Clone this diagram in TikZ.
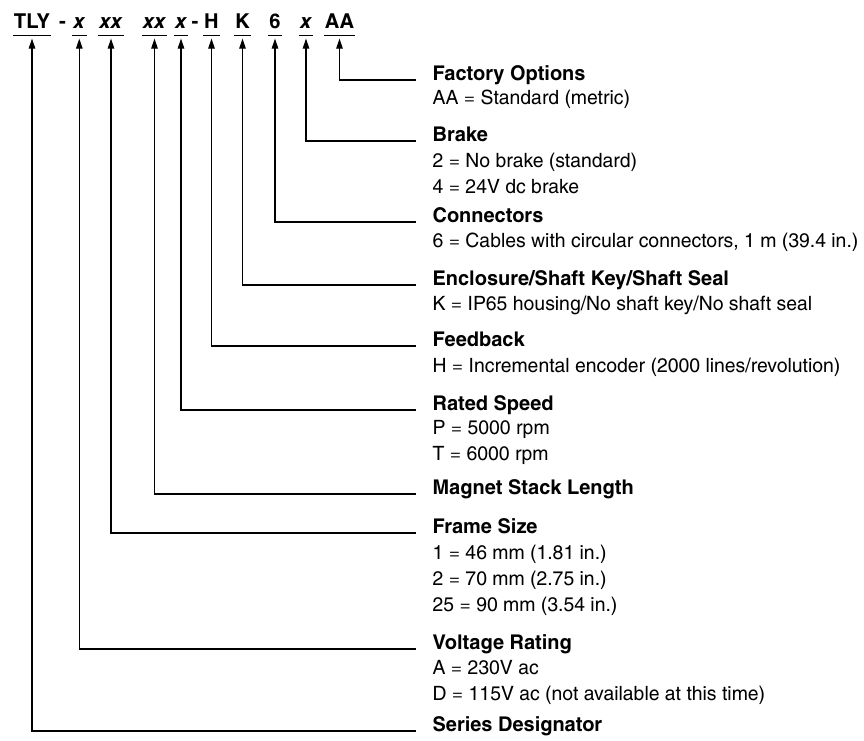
\documentclass[tikz,border=0pt]{standalone}
\usepackage{fontspec}
\setmainfont{texgyreheroscn}[Extension=.otf,UprightFont=*-regular,BoldFont=*-bold,ItalicFont=*-italic,BoldItalicFont=*-bolditalic,FakeStretch=1.2]
\usetikzlibrary{arrows.meta}
\tikzset{
  code/.style={anchor=base,inner xsep=0.5pt,inner ysep=7pt,text depth=0pt,font=\bfseries\fontsize{20.5}{24}\selectfont},
  head/.style={anchor=base west,inner xsep=16pt,inner ysep=0pt,font=\bfseries\fontsize{20.3}{24}\selectfont},
  desc/.style={anchor=base west,inner sep=0pt,font=\fontsize{19.7}{24}\selectfont},
  lead/.style={->,shorten >=3pt},
}
\begin{document}
\begin{tikzpicture}[x=1pt,y=-1pt,>={Triangle[length=10pt,width=6.5pt]},line width=1.2pt]
\useasboundingbox (0,0) rectangle (864,740);

% catalogue number
\node[code] (c1) at (32,28) {TLY};
\node[code] (s1) at (62.5,28) {-};
\node[code] (c2) at (79.3,28) {\textit{x}};
\node[code] (c3) at (111,28) {\textit{xx}};
\node[code] (c4) at (154.5,28) {\textit{xx}};
\node[code] (c5) at (181,28) {\textit{x}};
\node[code] (s2) at (195,28) {-};
\node[code] (c6) at (211.5,28) {H};
\node[code] (c7) at (242.5,28) {K};
\node[code] (c8) at (275,28) {6};
\node[code] (c9) at (306,28) {\textit{x}};
\node[code] (c10) at (339.5,28) {AA};

\foreach \c in {c1,c2,c3,c4,c5,c6,c7,c8,c9,c10}
  \draw[line width=1.5pt] (\c.south west) -- (\c.south east);

% headings
\node[head] (h1) at (416,80) {Factory Options};
\node[head] (h2) at (416,141) {Brake};
\node[head] (h3) at (416,222) {Connectors};
\node[head] (h4) at (416,285) {Enclosure/Shaft Key/Shaft Seal};
\node[head] (h5) at (416,346) {Feedback};
\node[head] (h6) at (416,410) {Rated Speed};
\node[head] (h7) at (416,494) {Magnet Stack Length};
\node[head] (h8) at (416,533) {Frame Size};
\node[head] (h9) at (416,649) {Voltage Rating};
\node[head] (h10) at (416,731) {Series Designator};

% options
\node[desc] (e1) at (432,104) {AA = Standard (metric)};
\node[desc] (e2a) at (432,167) {2 = No brake (standard)};
\node[desc] (e2b) at (432,193) {4 = 24V dc brake};
\node[desc] (e3) at (432,247) {6 = Cables with circular connectors, 1 m (39.4 in.)};
\node[desc] (e4) at (432,310) {K = IP65 housing/No shaft key/No shaft seal};
\node[desc] (e5) at (432,372) {H = Incremental encoder (2000 lines/revolution)};
\node[desc] (e6a) at (432,434) {P = 5000 rpm};
\node[desc] (e6b) at (432,460) {T = 6000 rpm};
\node[desc] (e8a) at (432,559) {1 = 46 mm (1.81 in.)};
\node[desc] (e8b) at (432,585) {2 = 70 mm (2.75 in.)};
\node[desc] (e8c) at (432,611) {25 = 90 mm (3.54 in.)};
\node[desc] (e9a) at (432,674) {A = 230V ac};
\node[desc] (e9b) at (432,700) {D = 115V ac (not available at this time)};

\draw[lead] (h1.base west) -| (c10.south);
\draw[lead] (h2.base west) -| (c9.south);
\draw[lead] (h3.base west) -| (c8.south);
\draw[lead] (h4.base west) -| (c7.south);
\draw[lead] (h5.base west) -| (c6.south);
\draw[lead] (h6.base west) -| (c5.south);
\draw[lead] (h7.base west) -| (c4.south);
\draw[lead] (h8.base west) -| (c3.south);
\draw[lead] (h9.base west) -| (c2.south);
\draw[lead] (h10.base west) -| (c1.south);
\end{tikzpicture}
\end{document}
